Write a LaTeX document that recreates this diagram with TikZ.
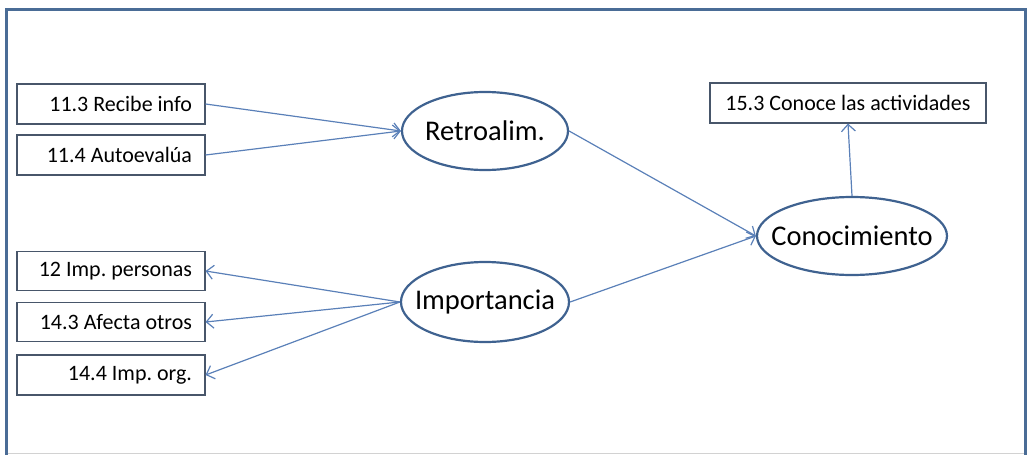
\documentclass[tikz,border=0pt]{standalone}
\usepackage{fontspec}
\setmainfont{Carlito}
\frenchspacing
\usepackage{xcolor}
\usepackage{tikz}
\usetikzlibrary{shapes.geometric, arrows.meta, positioning}
\definecolor{framecol}{HTML}{4A6C96}
\definecolor{ovalcol}{HTML}{3F6290}
\definecolor{boxcol}{HTML}{48566A}
\definecolor{arrowcol}{HTML}{5A80B8}
\tikzstyle{latent} = [ellipse, minimum width=166pt, minimum height=78pt, inner xsep=-14pt, inner ysep=0pt, text centered, draw=ovalcol, line width=2.2pt, font=\fontsize{28.5}{32}\selectfont]
\tikzstyle{indicator} = [rectangle, minimum width=188pt, minimum height=40pt, text width=162pt, align=flush right, draw=boxcol, line width=1.1pt, font=\fontsize{22}{25}\selectfont]
\tikzstyle{arrow} = [draw=arrowcol, line width=1.2pt, -{Straight Barb[length=7pt,width=14pt]}]

\begin{document}
\begin{tikzpicture}[x=1pt, y=-1pt, node distance=51pt]

      \useasboundingbox (0,0) rectangle (1029,455);

      % Frame
      \draw [gray!35, line width=1pt] (6.5,453) -- (1025.5,453);
      \draw [framecol, line width=3pt] (6.5,455) -- (6.5,9) -- (1025.5,9) -- (1025.5,455);

      % Nodes
      \node (rec) [indicator] at (111,104) {11.3 Recibe info};
      \node (auto) [indicator, below of=rec] {11.4 Autoevalúa};
      \node (retro) [latent, right of=rec, xshift=323pt, yshift=-27pt] {Retroalim.};

      \node (impo) [latent, below of=retro, yshift=-120pt, minimum width=168pt, minimum height=80pt] {Importancia};
      \node (imppers) [indicator, below of=auto, yshift=-65pt, minimum height=39pt] {12 Imp. personas};
      \node (afecta) [indicator, below of=imppers, minimum height=39pt] {14.3 Afecta otros};
      \node (imporg) [indicator, below of=afecta, yshift=-2pt] {14.4 Imp. org.};

      \node (cono) [latent, right of=retro, xshift=316pt, yshift=-105pt, minimum width=190pt] {Conocimiento};
      \node (conoce) [indicator, above of=cono, yshift=82pt, xshift=-4pt, minimum width=276pt, text width=, align=center] {15.3 Conoce las actividades};

      % Arrows
      \draw [arrow] (rec.east) -- (retro.west);
      \draw [arrow] (auto.east) -- (retro.west);
      \draw [arrow] (impo.west) -- (imppers.east);
      \draw [arrow] (impo.west) -- (afecta.east);
      \draw [arrow] (impo.west) -- (imporg.east);
      \draw [arrow] (retro.east) -- (cono.west);
      \draw [arrow] (impo.east) -- (cono.west);
      \draw [arrow] (cono.north) -- (conoce.south);

    \end{tikzpicture}
\end{document}
